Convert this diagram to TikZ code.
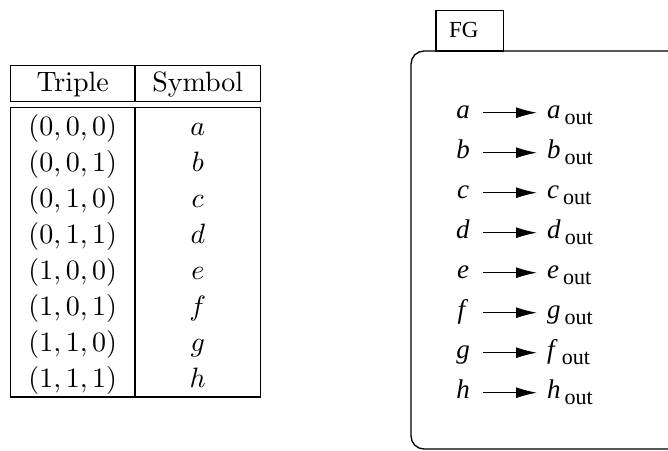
\documentclass[tikz,border=0pt]{standalone}
\usepackage[no-math]{fontspec}
\setmainfont{Liberation Serif}
\usetikzlibrary{arrows.meta}
\tikzset{
  tbl/.style={line width=1.1pt},
  cell/.style={anchor=base,inner sep=0pt,scale=2.8},
  lft/.style={minimum width=40pt,inner xsep=0pt,inner ysep=0pt,text height=14pt,text depth=2.8pt},
  rgt/.style={anchor=west,inner xsep=10pt,inner ysep=0pt,text height=14pt,text depth=2.8pt},
  arr/.style={line width=1.3pt,-{Latex[length=21pt,width=11pt]}},
  frm/.style={line width=1.3pt}}
\begin{document}
\begin{tikzpicture}[x=1pt,y=-1pt]
\useasboundingbox (0,0) rectangle (668,450);
\clip (0,0) rectangle (668,450);
% ---- table ----
\draw[tbl] (10.7,65.7) rectangle (260.7,101.7);
\draw[tbl] (135,65.7) -- (135,101.7);
\draw[tbl] (10.7,107.7) rectangle (260.7,397);
\draw[tbl] (135,107.7) -- (135,397);
\node[cell] (h1) at (72.8,91.7) {$\mathrm{Triple}$};
\node[cell] (h2) at (197.8,91.7) {$\mathrm{Symbol}$};
\foreach \tr/\sy/\i in {{0,0,0}/a/0,{0,0,1}/b/1,{0,1,0}/c/2,{0,1,1}/d/3,{1,0,0}/e/4,{1,0,1}/f/5,{1,1,0}/g/6,{1,1,1}/h/7}{
  \node[cell] (t\i) at (72.8,135+36.1*\i) {$(\tr)$};
  \node[cell] (s\i) at (197.8,135+36.1*\i) {$\sy$};
}
% ---- FG frame ----
\draw[frm,rounded corners=13pt] (720,51) -- (411,51) -- (411,449) -- (720,449);
\draw[frm] (436,51) rectangle (503.3,10.7);
\node[anchor=base west,inner sep=0pt] (fg) at (449,37.7) {\fontsize{23}{23}\selectfont FG};
\foreach \pa/\pb/\i in {a/a/0,b/b/1,c/c/2,d/d/3,e/e/4,f/g/5,g/f/6,h/h/7}{
  \node[lft] (l\i) at (463,112.7+40*\i) {\fontsize{27}{30}\selectfont\textit{\pa}};
  \node[rgt] (r\i) at (537,112.7+40*\i) {\fontsize{27}{30}\selectfont\textit{\pb}\hspace{4pt}\raisebox{-6pt}{\fontsize{22}{22}\selectfont out}};
  \draw[arr] (l\i) -- (r\i);
}
\end{tikzpicture}
\end{document}
